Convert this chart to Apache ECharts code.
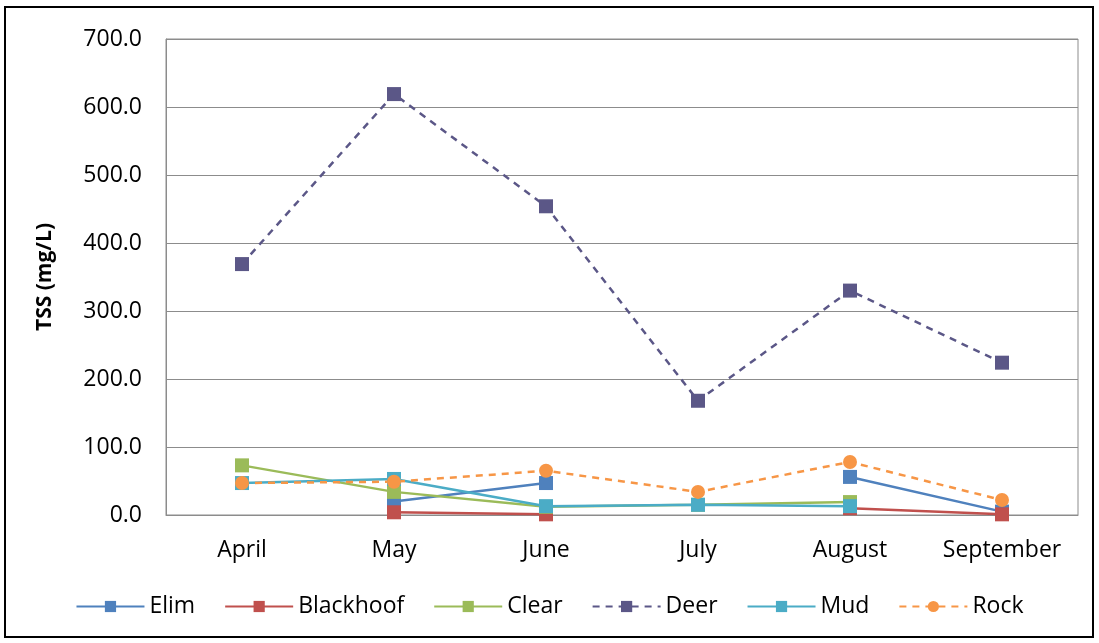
<!DOCTYPE html>
<html>
<head>
<meta charset="utf-8">
<script src="https://cdn.jsdelivr.net/npm/echarts@6/dist/echarts.min.js"></script>
<style>
html,body{margin:0;padding:0;background:#fff;}
#c{width:1099px;height:643px;}
</style>
</head>
<body>
<div id="c"></div>
<script>
var months = ['April','May','June','July','August','September'];
var elim      = [null, 20, 47, null, 56, 5];
var blackhoof = [null, 4, 1, null, 10, 1];
var clear     = [73, 34, 12, 15, 19, null];
var deer      = [369, 619, 454, 168, 330, 224];
var mud       = [47, 53, 13, 15, 13, null];
var rock      = [47, 49, 65, 34, 78, 22];
var yTicks = [0, 100, 200, 300, 400, 500, 600, 700];

var font = 'Open Sans';
function mk(name, data, color, symbol, dashed){
  return {
    name: name, type: 'line', data: data,
    symbol: symbol, symbolSize: 14,
    itemStyle: {color: color},
    lineStyle: {color: color, width: 2.5, type: dashed ? [7,6] : 'solid'},
    emphasis: {disabled: true},
    connectNulls: false
  };
}
var chart = echarts.init(document.getElementById('c'), null, {renderer:'canvas'});
chart.setOption({
  animation: false,
  backgroundColor: '#fff',
  graphic: [{type:'rect', shape:{x:5,y:7,width:1088,height:630}, style:{fill:'none', stroke:'#000', lineWidth:2}, silent:true}],
  grid: {left:166, right:21, top:39, bottom:128, show:true, borderColor:'#8c8c8c', borderWidth:1},
  legend: {
    bottom: 20, left: 'center',
    itemWidth: 68, itemHeight: 14, itemGap: 29,
    textStyle: {fontFamily: font, fontSize: 23, color:'#000'},
    data: ['Elim','Blackhoof','Clear','Deer','Mud','Rock']
  },
  xAxis: {
    type: 'category', data: months, boundaryGap: true,
    axisLine: {lineStyle:{color:'#8c8c8c'}},
    axisTick: {show:false},
    axisLabel: {fontFamily: font, fontSize: 23, color:'#000', margin: 24, interval: 0}
  },
  yAxis: {
    type: 'value', min: yTicks[0], max: yTicks[yTicks.length-1], interval: 100,
    name: 'TSS (mg/L)', nameLocation: 'middle', nameGap: 110,
    nameTextStyle: {fontFamily: font, fontSize: 21, fontWeight:'bold', color:'#000'},
    axisLine: {show:true, lineStyle:{color:'#8c8c8c'}},
    axisTick: {show:false},
    splitLine: {lineStyle:{color:'#8c8c8c'}},
    axisLabel: {fontFamily: font, fontSize: 23, color:'#000', margin: 24,
      formatter: function(v){return v.toFixed(1);}}
  },
  series: [
    mk('Elim', elim, '#4F81BD', 'rect', false),
    mk('Blackhoof', blackhoof, '#C0504D', 'rect', false),
    mk('Clear', clear, '#9BBB59', 'rect', false),
    mk('Deer', deer, '#5B5787', 'rect', true),
    mk('Mud', mud, '#4BACC6', 'rect', false),
    mk('Rock', rock, '#F79646', 'circle', true)
  ]
});
</script>
</body>
</html>
